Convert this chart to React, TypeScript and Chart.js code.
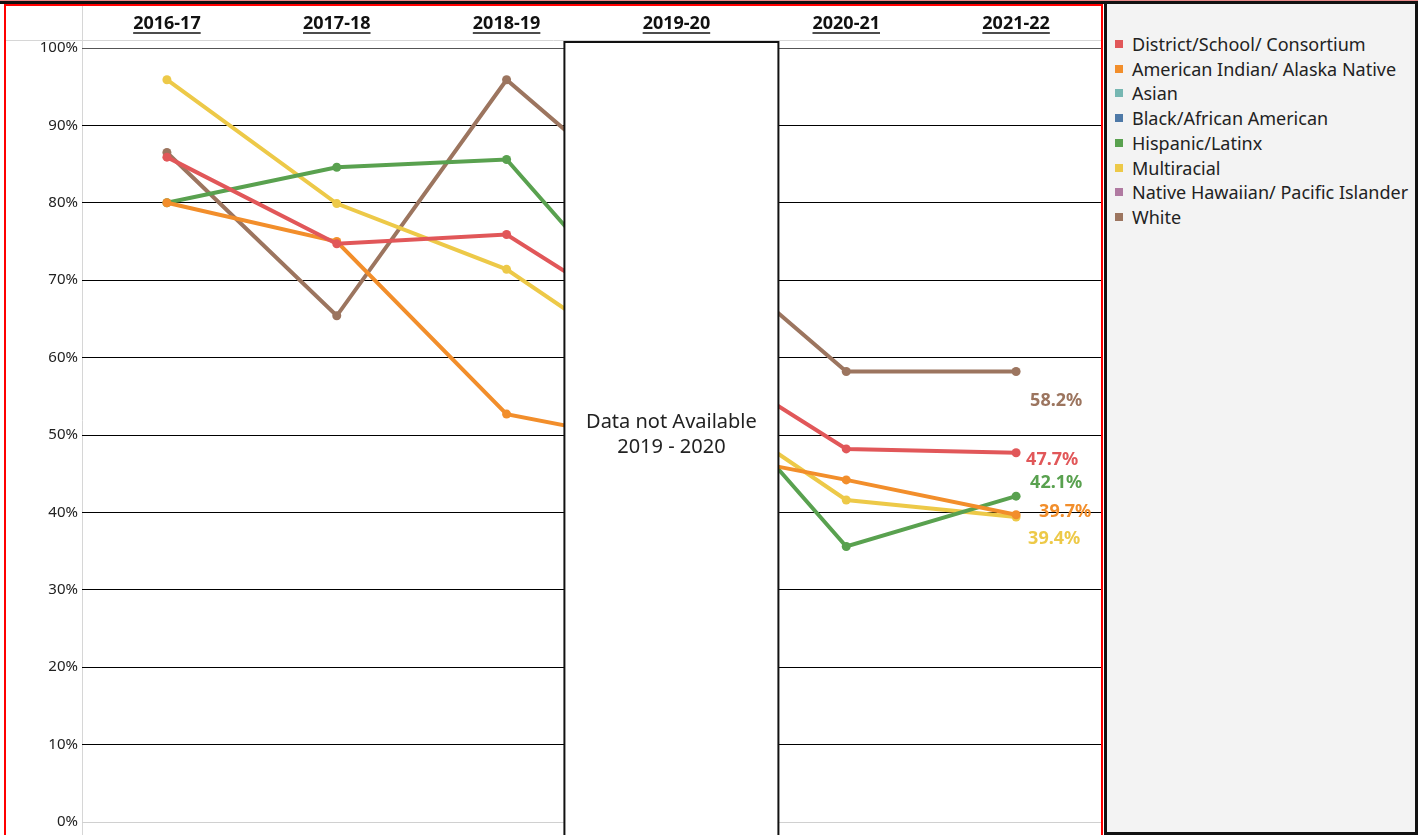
import React, { useEffect, useRef } from "react";
import { Chart, registerables } from "chart.js";

Chart.register(...registerables);

// ---------- data ----------
const categories = ["2016-17", "2017-18", "2018-19", "2019-20", "2020-21", "2021-22"];
const yTickValues = [0, 10, 20, 30, 40, 50, 60, 70, 80, 90, 100];

const seriesNames = [
  "District/School/ Consortium",
  "American Indian/ Alaska Native",
  "Asian",
  "Black/African American",
  "Hispanic/Latinx",
  "Multiracial",
  "Native Hawaiian/ Pacific Islander",
  "White",
];

const districtValues = [85.9, 74.7, 75.9, null, 48.2, 47.7];
const americanIndianValues = [80.0, 75.0, 52.7, null, 44.2, 39.7];
const asianValues = [null, null, null, null, null, null];
const blackValues = [null, null, null, null, null, null];
const hispanicValues = [80.0, 84.6, 85.6, null, 35.6, 42.1];
const multiracialValues = [95.9, 79.9, 71.4, null, 41.6, 39.4];
const nativeHawaiianValues = [null, null, null, null, null, null];
const whiteValues = [86.5, 65.4, 95.9, null, 58.2, 58.2];

const seriesValues = [
  districtValues,
  americanIndianValues,
  asianValues,
  blackValues,
  hispanicValues,
  multiracialValues,
  nativeHawaiianValues,
  whiteValues,
];

const missingCategory = "2019-20";
const missingNote = ["Data not Available", "2019 - 2020"];

// ---------- styles ----------
const seriesColors = [
  "#e15759",
  "#f28e2b",
  "#76b7b2",
  "#4e79a7",
  "#59a14f",
  "#edc948",
  "#b07aa1",
  "#9c755f",
];

// end-label offsets (dx, dy) from the last point, per series index
const endLabelOffsets: Record<number, [number, number]> = {
  0: [10, 7],
  1: [23, -3],
  4: [14, -13],
  5: [12, 22],
  7: [14, 29],
};

const FONT = "'Noto Sans', 'DejaVu Sans', sans-serif";

const decorPlugin = {
  id: "decor",
  beforeDraw(chart: any) {
    const { ctx, chartArea, width, height } = chart;
    ctx.save();
    // header separator
    ctx.strokeStyle = "#d6d6d6";
    ctx.lineWidth = 1;
    ctx.beginPath();
    ctx.moveTo(0, 34.5);
    ctx.lineTo(width, 34.5);
    ctx.stroke();
    // vertical axis line
    ctx.beginPath();
    ctx.moveTo(chartArea.left + 0.5, 0);
    ctx.lineTo(chartArea.left + 0.5, height);
    ctx.stroke();
    ctx.restore();
  },
  afterDraw(chart: any) {
    const { ctx } = chart;
    const xs = chart.scales.x;
    ctx.save();
    ctx.font = `bold 18px ${FONT}`;
    ctx.strokeStyle = "#111";
    ctx.lineWidth = 1.5;
    categories.forEach((c, i) => {
      const px = xs.getPixelForValue(i);
      const w = ctx.measureText(c).width;
      ctx.beginPath();
      ctx.moveTo(px - w / 2, 27);
      ctx.lineTo(px + w / 2, 27);
      ctx.stroke();
    });
    ctx.restore();
  },
  afterDatasetsDraw(chart: any) {
    const { ctx, chartArea, height } = chart;
    const xs = chart.scales.x;
    const ys = chart.scales.y;
    ctx.save();
    // missing data box
    const idx = categories.indexOf(missingCategory);
    const cx = xs.getPixelForValue(idx) - 5;
    const half = 107;
    const top = chartArea.top - 6;
    ctx.fillStyle = "#ffffff";
    ctx.fillRect(cx - half, top, half * 2, height - top + 10);
    ctx.strokeStyle = "#111";
    ctx.lineWidth = 2;
    ctx.strokeRect(cx - half, top, half * 2, height - top + 10);
    ctx.fillStyle = "#222";
    ctx.font = `20px ${FONT}`;
    ctx.textAlign = "center";
    ctx.textBaseline = "middle";
    const my = ys.getPixelForValue(50);
    ctx.fillText(missingNote[0], cx, my - 12.5);
    ctx.fillText(missingNote[1], cx, my + 12.5);

    // end labels
    ctx.font = `bold 18px ${FONT}`;
    ctx.textAlign = "left";
    chart.data.datasets.forEach((ds: any, di: number) => {
      const off = endLabelOffsets[di];
      if (!off) return;
      const meta = chart.getDatasetMeta(di);
      const last = ds.data.length - 1;
      const v = ds.data[last];
      if (v == null) return;
      const pt = meta.data[last];
      ctx.fillStyle = seriesColors[di];
      ctx.fillText(`${v.toFixed(1)}%`, pt.x + off[0], pt.y + off[1]);
    });
    ctx.restore();
  },
};

function ChartCanvas() {
  const ref = useRef<HTMLCanvasElement | null>(null);
  useEffect(() => {
    if (!ref.current) return;
    const chart = new Chart(ref.current, {
      type: "line",
      data: {
        labels: categories,
        datasets: seriesNames.map((name, i) => ({
          label: name,
          data: seriesValues[i],
          borderColor: seriesColors[i],
          backgroundColor: seriesColors[i],
          borderWidth: 4,
          pointRadius: 4.5,
          pointBorderWidth: 0,
          pointHoverRadius: 4.5,
          spanGaps: true,
          tension: 0,
        })),
      },
      options: {
        responsive: false,
        animation: false,
        events: [],
        layout: { autoPadding: false, padding: { left: 0, right: 0, top: 0, bottom: 8 } },
        plugins: { legend: { display: false }, tooltip: { enabled: false } },
        scales: {
          x: {
            type: "category",
            position: "top",
            offset: true,
            grid: { display: false, drawTicks: false },
            border: { display: false },
            ticks: {
              color: "#111",
              font: { family: FONT, size: 18, weight: "bold" },
              padding: 13,
              maxRotation: 0,
              autoSkip: false,
            },
            afterFit: (s: any) => {
              s.height = 42;
            },
          },
          y: {
            min: 0,
            max: 100,
            afterBuildTicks: (s: any) => {
              s.ticks = yTickValues.map((v) => ({ value: v }));
            },
            grid: {
              drawTicks: false,
              lineWidth: 1,
              color: (c: any) =>
                c.tick && c.tick.value === 0
                  ? "#d0d0d0"
                  : c.tick && c.tick.value === 100
                  ? "#555555"
                  : "#000000",
            },
            border: { display: false },
            ticks: {
              color: "#222",
              font: { family: FONT, size: 15 },
              padding: 4,
              callback: (v: any) => `${v}%`,
            },
            afterFit: (s: any) => {
              s.width = 76;
            },
          },
        },
      },
      plugins: [decorPlugin],
    });
    return () => chart.destroy();
  }, []);
  return <canvas ref={ref} width={1095} height={829} style={{ display: "block" }} />;
}

export default function App() {
  return (
    <div
      style={{
        position: "relative",
        width: 1426,
        height: 835,
        overflow: "hidden",
        background: "#fff",
        fontFamily: FONT,
      }}
    >
      <style>{`body{margin:0}`}</style>
      <div
        style={{
          position: "absolute",
          left: 0,
          top: 0,
          width: 1418,
          height: 3,
          background: "#111",
          borderTop: "1px solid #e98a8a",
        }}
      />
      <div
        style={{
          position: "absolute",
          left: 4,
          top: 4,
          width: 1095,
          height: 840,
          border: "2px solid #ff0000",
          boxSizing: "content-box",
        }}
      >
        <ChartCanvas />
      </div>
      <div
        style={{
          position: "absolute",
          left: 1104,
          top: 1,
          width: 308,
          height: 828,
          border: "3px solid #111",
          background: "#f3f3f3",
          boxSizing: "content-box",
        }}
      >
        {seriesNames.map((name, i) => (
          <div
            key={name}
            style={{
              position: "absolute",
              left: 8,
              top: 27.6 + i * 24.75,
              height: 24.75,
              display: "flex",
              alignItems: "center",
              whiteSpace: "nowrap",
            }}
          >
            <span
              style={{
                display: "inline-block",
                width: 8,
                height: 8,
                background: seriesColors[i],
                marginRight: 9,
              }}
            />
            <span style={{ fontSize: 18, color: "#222" }}>{name}</span>
          </div>
        ))}
      </div>
    </div>
  );
}
